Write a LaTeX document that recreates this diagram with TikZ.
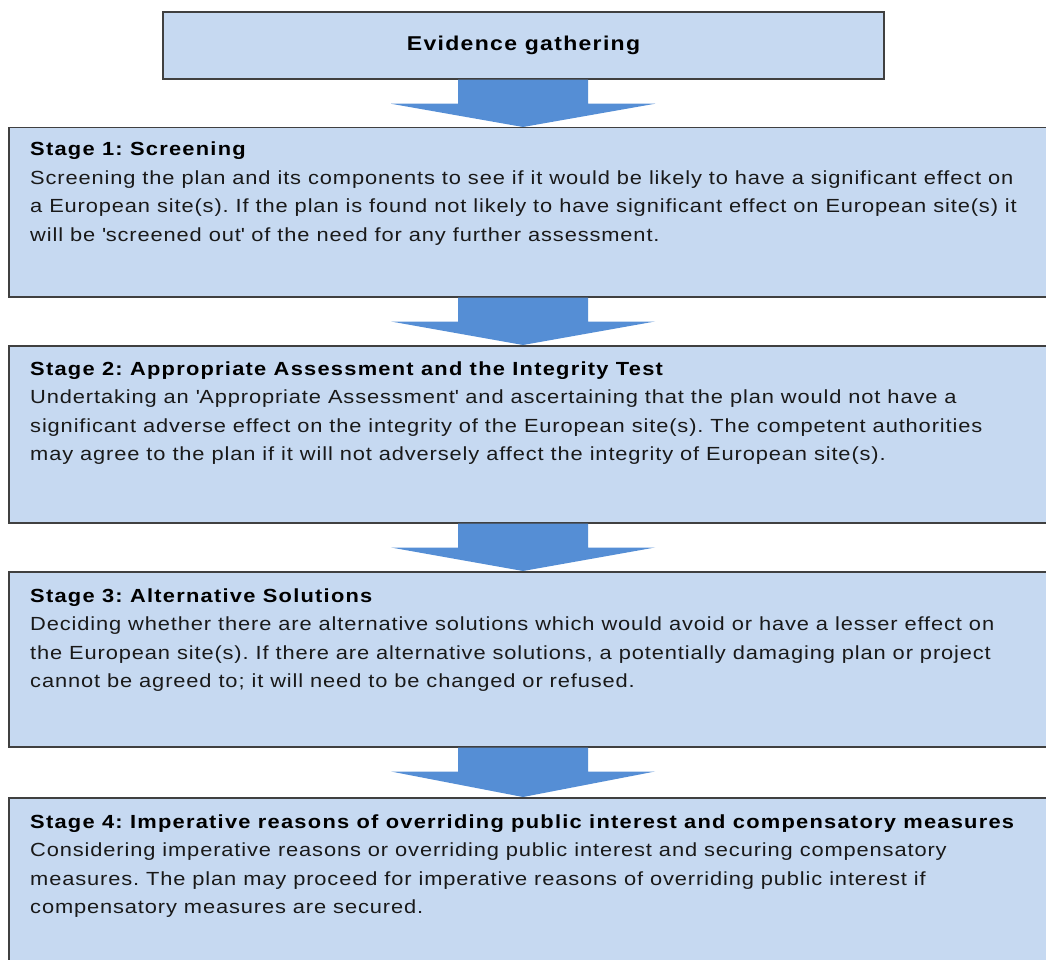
\documentclass[tikz,border=0pt]{standalone}
\usepackage{fontspec}
\setmainfont{Liberation Sans}[FakeStretch=1.15,LetterSpace=4.6,BoldFeatures={FakeStretch=1.15,LetterSpace=6.6}]
\usetikzlibrary{calc}
\definecolor{boxfill}{RGB}{198,217,241}
\definecolor{arrowfill}{RGB}{85,142,213}
\definecolor{boxline}{RGB}{64,64,64}
\definecolor{bodytext}{RGB}{25,25,25}
\newcommand{\q}{\textquotesingle}
\newcommand{\stagetext}[1]{\parbox[t]{1300pt}{\raggedright\frenchspacing\fontsize{19}{28.5}\selectfont #1}}
\newcommand{\blockarrow}[2]{%
  \fill[arrowfill] let \p1=(#1.south -| axis), \p2=(#2.north -| axis) in
    (\x1-65pt,\y1) -- (\x1+65pt,\y1) -- (\x1+65pt,\y1-24pt) -- (\x1+132pt,\y1-24pt)
    -- (\p2) -- (\x1-132pt,\y1-24pt) -- (\x1-65pt,\y1-24pt) -- cycle;}
\begin{document}
\begin{tikzpicture}[x=1pt,y=-1pt,
  box/.style={draw=boxline, line width=1.5pt, fill=boxfill, inner sep=0pt},
  stagebox/.style={box, anchor=north west, minimum width=1080pt},
  stagetxt/.style={anchor=base west, inner sep=0pt, text=bodytext}]
\useasboundingbox (0,0) rectangle (1046,960);
\clip (0,0) rectangle (1046,960);
\fill[white] (0,0) rectangle (1046,960);
\coordinate (axis) at (523,0);
% boxes
\node[box, minimum width=721pt, minimum height=67pt, font=\fontsize{20}{24}\selectfont\bfseries] (ev) at (523.5,45.5) {\raisebox{3pt}{Evidence gathering}};
\node[stagebox, minimum height=169pt] (s1) at (8,127) {};
\node[stagebox, minimum height=177pt] (s2) at (8,345) {};
\node[stagebox, minimum height=175pt] (s3) at (8,571) {};
\node[stagebox, minimum height=220pt] (s4) at (8,797) {};
% arrows
\blockarrow{ev}{s1}
\blockarrow{s1}{s2}
\blockarrow{s2}{s3}
\blockarrow{s3}{s4}
% texts
\node[stagetxt] (t1) at (30,156) {\stagetext{\textcolor{black}{\bfseries Stage 1: Screening}\\
Screening the plan and its components to see if it would be likely to have a significant effect on\\
a European site(s). If the plan is found not likely to have significant effect on European site(s) it\\
will be \q screened out\q{} of the need for any further assessment.}};
\node[stagetxt] (t2) at (30,375) {\stagetext{\textcolor{black}{\bfseries Stage 2: Appropriate Assessment and the Integrity Test}\\
Undertaking an \q Appropriate Assessment\q{} and ascertaining that the plan would not have a\\
significant adverse effect on the integrity of the European site(s). The competent authorities\\
may agree to the plan if it will not adversely affect the integrity of European site(s).}};
\node[stagetxt] (t3) at (30,602) {\stagetext{\textcolor{black}{\bfseries Stage 3: Alternative Solutions}\\
Deciding whether there are alternative solutions which would avoid or have a lesser effect on\\
the European site(s). If there are alternative solutions, a potentially damaging plan or project\\
cannot be agreed to; it will need to be changed or refused.}};
\node[stagetxt] (t4) at (30,828) {\stagetext{\textcolor{black}{\bfseries Stage 4: Imperative reasons of overriding public interest and compensatory measures}\\
Considering imperative reasons or overriding public interest and securing compensatory\\
measures. The plan may proceed for imperative reasons of overriding public interest if\\
compensatory measures are secured.}};
\end{tikzpicture}
\end{document}
